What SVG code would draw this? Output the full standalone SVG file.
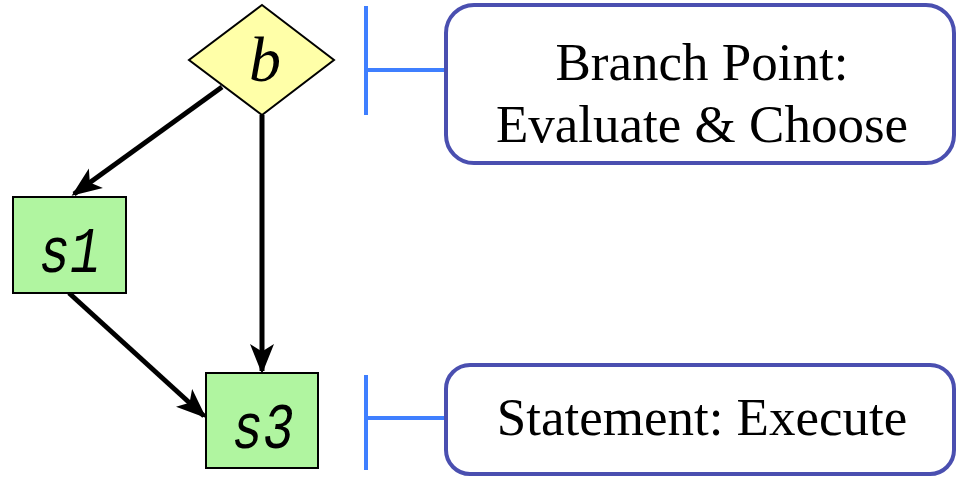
<svg xmlns="http://www.w3.org/2000/svg" width="958" height="477" viewBox="0 0 958 477">
<style>
.edge{stroke:#000;stroke-width:5;fill:none}
.stmt{fill:#b0f5a0;stroke:#000;stroke-width:2}
.tick{stroke:#3f7fff;stroke-width:4;fill:none}
.callout{fill:#fff;stroke:#4a4fb0;stroke-width:4}
.lbl{font-family:"Liberation Serif",serif;font-size:53px;fill:#000;text-anchor:middle}
.math{font-family:"Liberation Serif",serif;font-style:italic;fill:#000;text-anchor:middle}
.mono{font-family:"Liberation Mono",monospace;font-style:italic;fill:#000;text-anchor:middle}
</style>
<defs>
<marker id="ah" viewBox="0 0 20 16" refX="18" refY="8" markerWidth="6" markerHeight="5" orient="auto" markerUnits="strokeWidth">
<path d="M0,0 L20,8 L0,16 L5,8 Z" fill="#000"/>
</marker>
</defs>
<g id="connectors">
<line class="edge" x1="222" y1="87" x2="74" y2="194" marker-end="url(#ah)"/>
<line class="edge" x1="262" y1="115" x2="262" y2="371" marker-end="url(#ah)"/>
<line class="edge" x1="69" y1="293" x2="204" y2="416" marker-end="url(#ah)"/>
</g>
<g id="b">
<polygon points="262,5 334,60 262,115 189,60" fill="#ffffa8" stroke="#000" stroke-width="2"/>
<text class="math" x="265" y="81" font-size="64">b</text>
</g>
<g id="s1">
<rect class="stmt" x="13" y="197" width="113" height="96"/>
<text class="mono" transform="translate(70,272) scale(0.8,1)" font-size="64">s1</text>
</g>
<g id="s3">
<rect class="stmt" x="206" y="373" width="112" height="95"/>
<text class="mono" transform="translate(263,448) scale(0.8,1)" font-size="64">s3</text>
</g>
<g id="legend-branch">
<path class="tick" d="M366,6 V115 M366,70 H446"/>
<rect class="callout" x="446" y="5" width="508" height="158" rx="28"/>
<text class="lbl" x="702" y="80">Branch Point:</text>
<text class="lbl" x="702" y="142">Evaluate &amp; Choose</text>
</g>
<g id="legend-stmt">
<path class="tick" d="M366,375 V470 M366,418 H446"/>
<rect class="callout" x="446" y="365" width="508" height="109" rx="24"/>
<text class="lbl" x="702" y="435">Statement: Execute</text>
</g>
</svg>
